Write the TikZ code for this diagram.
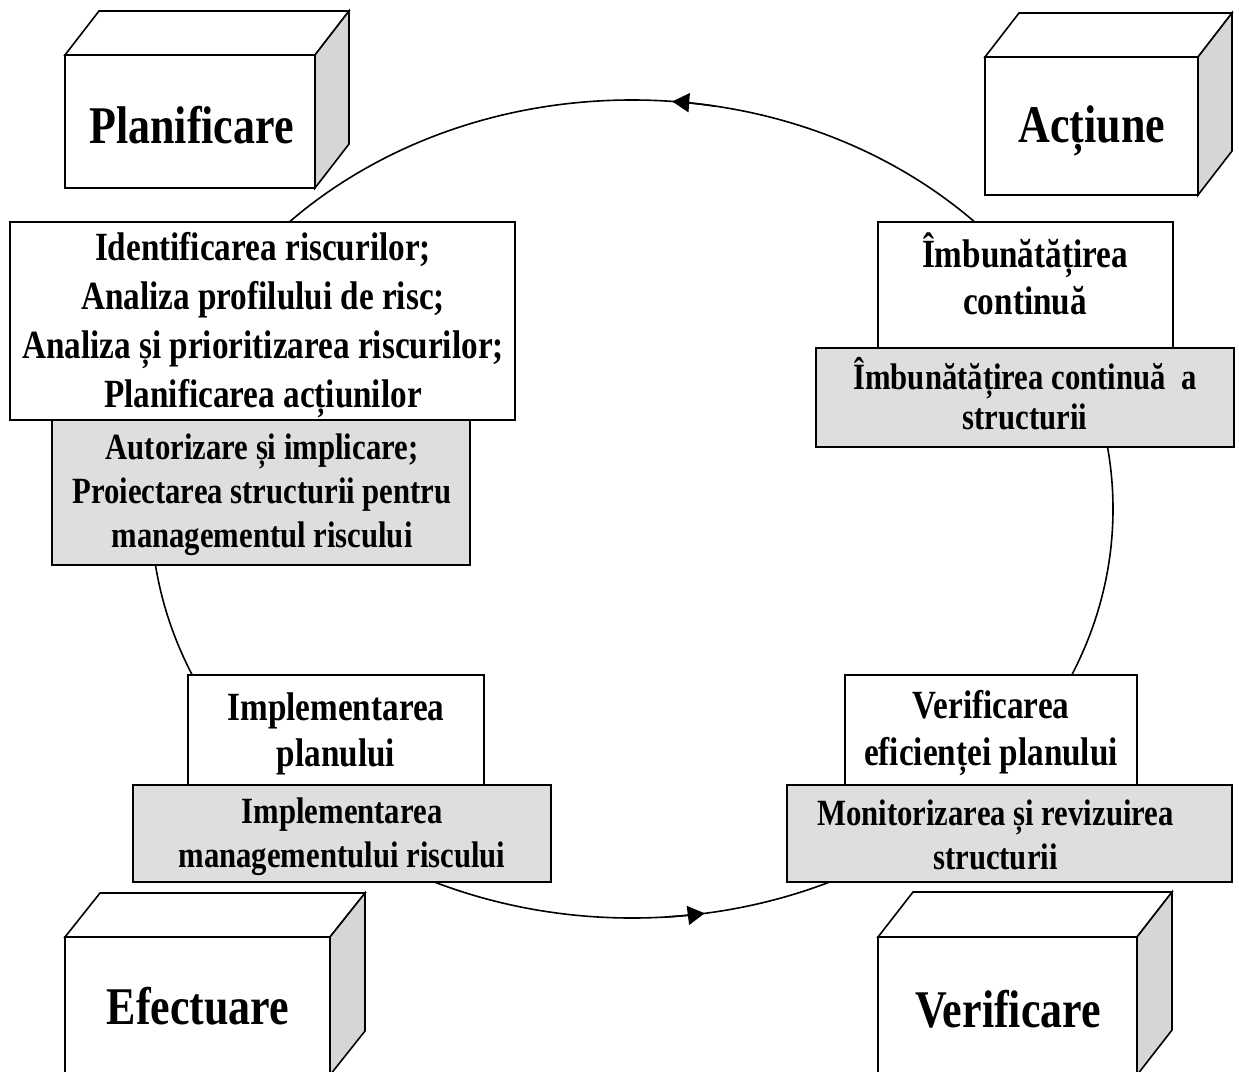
\documentclass[tikz,border=0pt]{standalone}
\usepackage{fontspec}
\newfontfamily\df[FakeStretch=0.83]{Liberation Serif}
\usetikzlibrary{arrows.meta}
\definecolor{boxgray}{RGB}{222,222,222}
\definecolor{sidegray}{RGB}{214,214,214}
\begin{document}
\begin{tikzpicture}[x=1pt,y=-1pt,line width=1.6pt,
  txt/.style={font=\df\bfseries\fontsize{40}{#1}\selectfont, align=center, inner sep=0pt},
  gtxt/.style={font=\df\bfseries\fontsize{37}{#1}\selectfont, align=center, inner sep=0pt},
  big/.style={font=\df\bfseries\fontsize{53}{60}\selectfont, inner sep=0pt},
  wbox/.style={draw, fill=white, inner sep=0pt, outer sep=0pt},
  gbox/.style={draw, fill=boxgray, inner sep=0pt, outer sep=0pt},
  front/.style={draw, fill=white, inner sep=0pt, outer sep=0pt},
  side/.style={draw, fill=sidegray},
  topf/.style={draw, fill=white},
  tip/.style={-{Triangle[length=17pt,width=19pt]}}
]
\useasboundingbox (0,0) rectangle (1239,1071);
\clip (0,0) rectangle (1239,1071);
\fill[white] (0,0) rectangle (1239,1071);

% cycle
\draw (632,509) ellipse [x radius=481, y radius=409];
\draw[tip] plot[domain=80:85.2, samples=12] ({632+481*cos(\x)},{509-409*sin(\x)});
\draw[tip] plot[domain=-86:-81.3, samples=12] ({632+481*cos(\x)},{509-409*sin(\x)});

% cubes
\node[front, minimum width=250, minimum height=133] (plan) at (190,121.5) {};
\draw[topf] (plan.north west) -- ++(34,-44) -- ([shift={(34,-44)}]plan.north east) -- (plan.north east) -- cycle;
\draw[side] (plan.north east) -- ([shift={(34,-44)}]plan.north east) -- ([shift={(34,-44)}]plan.south east) -- (plan.south east) -- cycle;
\node[big, anchor=base] (planL) at (191.5,143) {Planificare};

\node[front, minimum width=213, minimum height=138] (act) at (1091.5,126) {};
\draw[topf] (act.north west) -- ++(34,-44) -- ([shift={(34,-44)}]act.north east) -- (act.north east) -- cycle;
\draw[side] (act.north east) -- ([shift={(34,-44)}]act.north east) -- ([shift={(34,-44)}]act.south east) -- (act.south east) -- cycle;
\node[big, anchor=base] (actL) at (1092,142) {Acțiune};

\node[front, minimum width=265, minimum height=138] (efe) at (197.5,1006) {};
\draw[topf] (efe.north west) -- ++(35,-44) -- ([shift={(35,-44)}]efe.north east) -- (efe.north east) -- cycle;
\draw[side] (efe.north east) -- ([shift={(35,-44)}]efe.north east) -- ([shift={(35,-44)}]efe.south east) -- (efe.south east) -- cycle;
\node[big, anchor=base] (efeL) at (198,1024) {Efectuare};

\node[front, minimum width=259, minimum height=138] (ver) at (1007.5,1006) {};
\draw[topf] (ver.north west) -- ++(35,-45) -- ([shift={(35,-45)}]ver.north east) -- (ver.north east) -- cycle;
\draw[side] (ver.north east) -- ([shift={(35,-45)}]ver.north east) -- ([shift={(35,-45)}]ver.south east) -- (ver.south east) -- cycle;
\node[big, anchor=base] (verL) at (1008,1027) {Verificare};

% text boxes: planificare
\node[gbox, minimum width=418, minimum height=145] (p2) at (261,492.5) {};
\node[wbox, minimum width=505, minimum height=198] (p1) at (262.5,321) {};
\node[txt=49] (p1t) at (263,325) {Identificarea riscurilor;\\Analiza profilului de risc;\\Analiza și prioritizarea riscurilor;\\Planificarea acțiunilor};
\node[gtxt=44] (p2t) at (262,495) {Autorizare și implicare;\\Proiectarea structurii pentru\\managementul riscului};

% actiune
\node[wbox, minimum width=295, minimum height=126] (a1) at (1025.5,285) {};
\node[gbox, minimum width=418, minimum height=99] (a2) at (1025,397.5) {};
\node[txt=47] (a1t) at (1025,273.5) {Îmbunătățirea\\continuă};
\node[gtxt=40] (a2t) at (1025,394) {Îmbunătățirea continuă\ \ a\\structurii};

% efectuare
\node[wbox, minimum width=296, minimum height=110] (e1) at (336,730) {};
\node[gbox, minimum width=418, minimum height=97] (e2) at (342,833.5) {};
\node[txt=46] (e1t) at (336,734) {Implementarea\\planului};
\node[gtxt=44] (e2t) at (342,837) {Implementarea\\managementului riscului};

% verificare
\node[wbox, minimum width=292, minimum height=110] (v1) at (991,730) {};
\node[gbox, minimum width=445, minimum height=97] (v2) at (1009.5,833.5) {};
\node[txt=47] (v1t) at (991,733.5) {Verificarea\\eficienței planului};
\node[gtxt=44] (v2t) at (995.5,835) {Monitorizarea și revizuirea\\structurii};
\end{tikzpicture}
\end{document}
